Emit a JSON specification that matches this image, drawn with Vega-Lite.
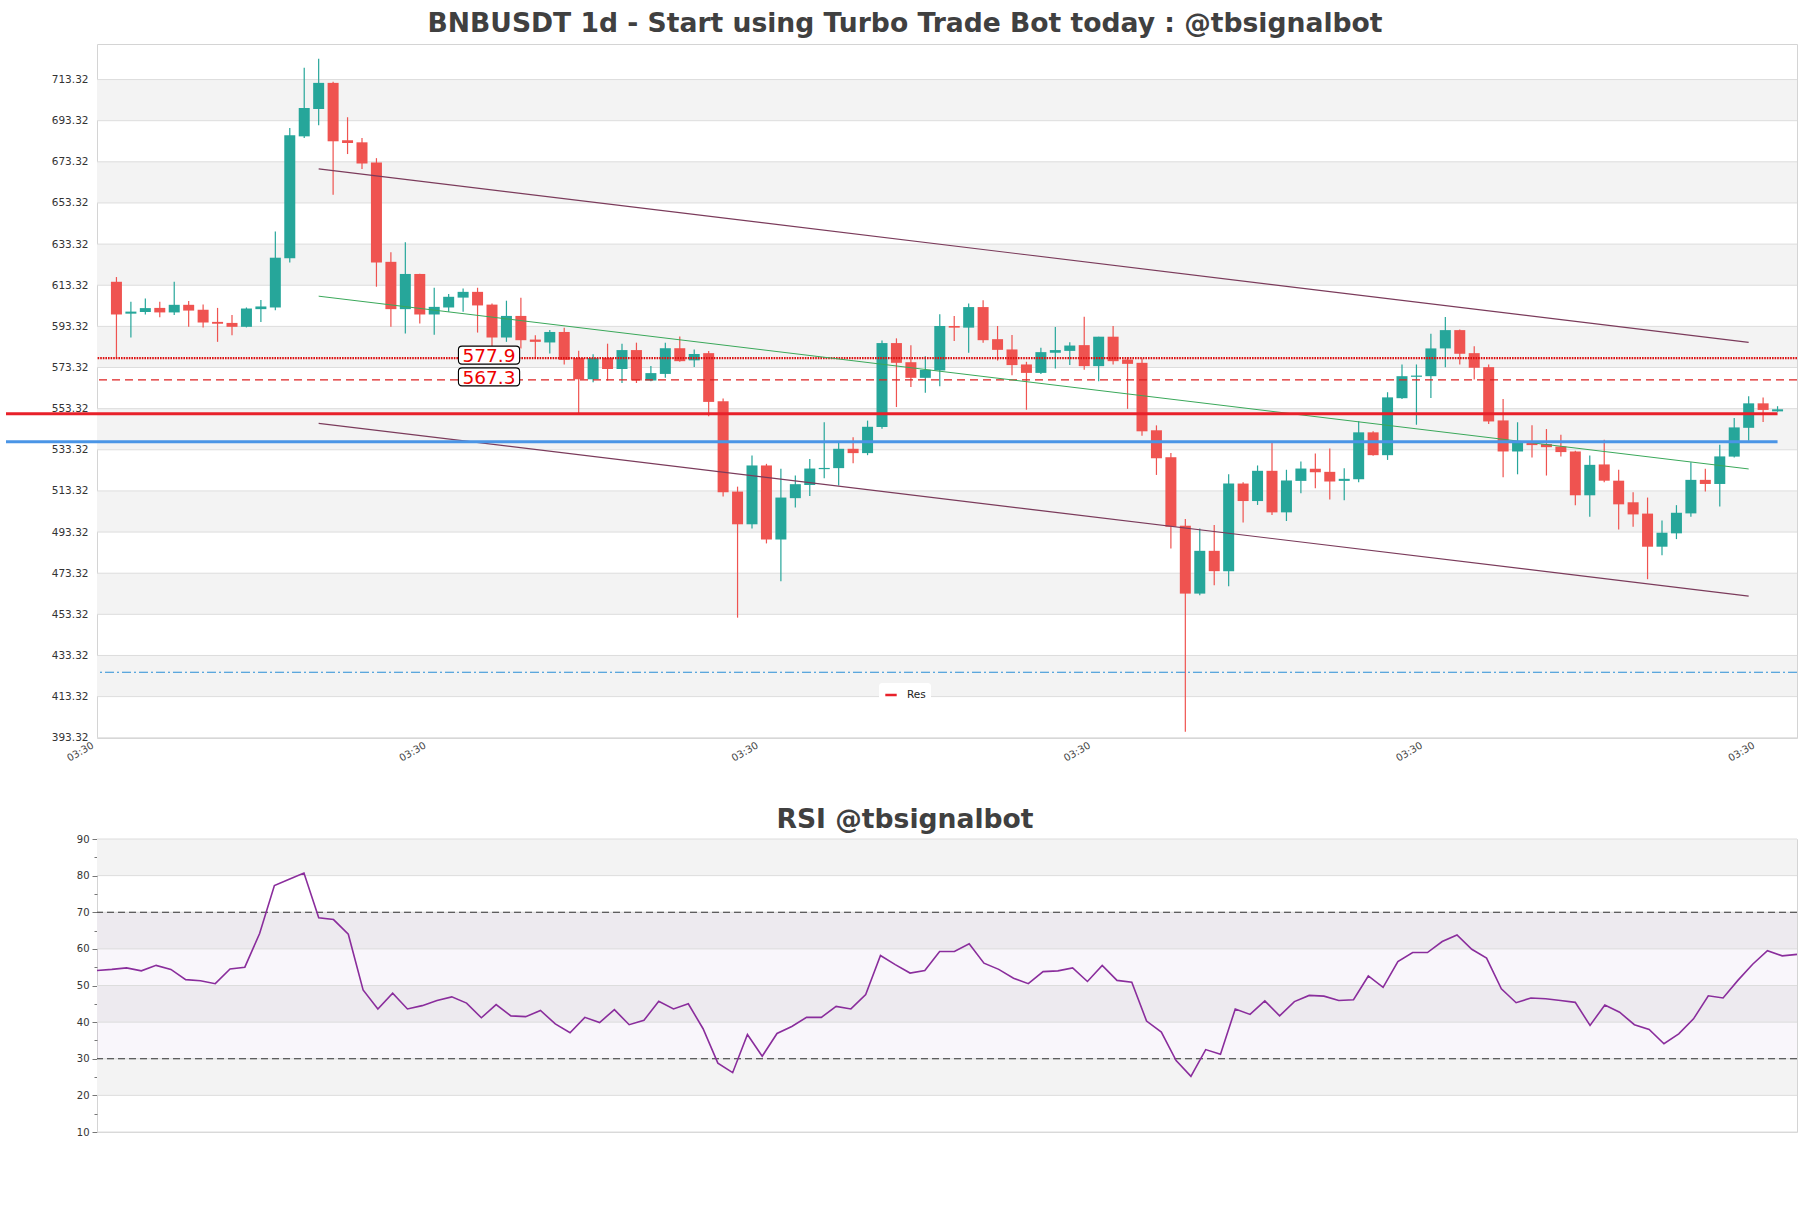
{
"$schema": "https://vega.github.io/schema/vega-lite/v6.json",
"background": "white",
"padding": {"left": 4, "top": 10, "right": 10, "bottom": 5},
"spacing": 42,
"config": {"font": "DejaVu Sans", "view": {"stroke": "#d4d4d4", "strokeWidth": 1}, "axis": {"labelFont": "DejaVu Sans", "grid": false, "domain": false}},
"resolve": {"scale": {"x": "independent", "y": "independent", "color": "independent"}},
"datasets": {
"k": [
{"d":"2024-05-23T03:30:00","o":615.0,"h":617.3,"l":577.8,"c":599.1,"r":54.1},
{"d":"2024-05-24T03:30:00","o":599.5,"h":605.3,"l":587.9,"c":600.5,"r":54.4},
{"d":"2024-05-25T03:30:00","o":600.3,"h":606.9,"l":599.1,"c":602.2,"r":54.8},
{"d":"2024-05-26T03:30:00","o":602.3,"h":605.3,"l":597.8,"c":600.1,"r":54.0},
{"d":"2024-05-27T03:30:00","o":600.1,"h":615.0,"l":598.8,"c":603.8,"r":55.5},
{"d":"2024-05-28T03:30:00","o":603.8,"h":605.6,"l":593.1,"c":601.0,"r":54.4},
{"d":"2024-05-29T03:30:00","o":601.4,"h":604.0,"l":592.8,"c":595.2,"r":51.6},
{"d":"2024-05-30T03:30:00","o":595.5,"h":602.3,"l":585.8,"c":594.6,"r":51.3},
{"d":"2024-05-31T03:30:00","o":595.0,"h":598.8,"l":589.0,"c":593.1,"r":50.5},
{"d":"2024-06-01T03:30:00","o":593.1,"h":602.5,"l":592.8,"c":602.0,"r":54.5},
{"d":"2024-06-02T03:30:00","o":601.7,"h":606.1,"l":595.5,"c":603.0,"r":55.0},
{"d":"2024-06-03T03:30:00","o":602.5,"h":639.4,"l":601.2,"c":626.7,"r":64.2},
{"d":"2024-06-04T03:30:00","o":626.4,"h":689.8,"l":624.4,"c":686.2,"r":77.3},
{"d":"2024-06-05T03:30:00","o":685.7,"h":719.0,"l":684.9,"c":699.5,"r":79.0},
{"d":"2024-06-06T03:30:00","o":699.0,"h":723.4,"l":691.1,"c":711.7,"r":80.7},
{"d":"2024-06-07T03:30:00","o":711.7,"h":712.2,"l":657.3,"c":683.3,"r":68.5},
{"d":"2024-06-08T03:30:00","o":683.8,"h":695.0,"l":677.1,"c":682.5,"r":68.0},
{"d":"2024-06-09T03:30:00","o":682.8,"h":684.9,"l":669.8,"c":672.5,"r":64.0},
{"d":"2024-06-10T03:30:00","o":673.0,"h":675.1,"l":612.6,"c":624.4,"r":48.8},
{"d":"2024-06-11T03:30:00","o":624.7,"h":629.3,"l":593.1,"c":601.7,"r":43.6},
{"d":"2024-06-12T03:30:00","o":601.7,"h":634.2,"l":589.9,"c":618.8,"r":47.9},
{"d":"2024-06-13T03:30:00","o":618.8,"h":618.9,"l":594.7,"c":599.1,"r":43.6},
{"d":"2024-06-14T03:30:00","o":599.1,"h":612.1,"l":589.3,"c":602.8,"r":44.5},
{"d":"2024-06-15T03:30:00","o":602.5,"h":609.0,"l":600.4,"c":607.7,"r":45.9},
{"d":"2024-06-16T03:30:00","o":607.3,"h":611.7,"l":600.4,"c":610.1,"r":46.9},
{"d":"2024-06-17T03:30:00","o":610.1,"h":612.1,"l":590.3,"c":603.5,"r":45.2},
{"d":"2024-06-18T03:30:00","o":603.9,"h":604.5,"l":583.3,"c":587.9,"r":41.2},
{"d":"2024-06-19T03:30:00","o":587.9,"h":605.8,"l":585.8,"c":598.4,"r":44.8},
{"d":"2024-06-20T03:30:00","o":598.4,"h":607.2,"l":582.6,"c":586.6,"r":41.7},
{"d":"2024-06-21T03:30:00","o":586.9,"h":589.0,"l":577.7,"c":585.8,"r":41.5},
{"d":"2024-06-22T03:30:00","o":585.5,"h":591.5,"l":580.1,"c":590.6,"r":43.2},
{"d":"2024-06-23T03:30:00","o":590.6,"h":592.6,"l":574.8,"c":577.0,"r":39.5},
{"d":"2024-06-24T03:30:00","o":577.9,"h":581.5,"l":550.3,"c":567.6,"r":37.1},
{"d":"2024-06-25T03:30:00","o":567.6,"h":579.8,"l":566.2,"c":577.9,"r":41.3},
{"d":"2024-06-26T03:30:00","o":578.0,"h":584.9,"l":567.0,"c":572.6,"r":39.9},
{"d":"2024-06-27T03:30:00","o":572.6,"h":584.9,"l":565.8,"c":581.8,"r":43.4},
{"d":"2024-06-28T03:30:00","o":581.8,"h":585.4,"l":565.8,"c":567.0,"r":39.3},
{"d":"2024-06-29T03:30:00","o":567.0,"h":574.0,"l":566.7,"c":570.6,"r":40.5},
{"d":"2024-06-30T03:30:00","o":570.2,"h":585.4,"l":568.3,"c":582.7,"r":45.7},
{"d":"2024-07-01T03:30:00","o":582.7,"h":588.4,"l":576.1,"c":576.4,"r":43.6},
{"d":"2024-07-02T03:30:00","o":576.8,"h":582.1,"l":573.6,"c":579.9,"r":45.0},
{"d":"2024-07-03T03:30:00","o":580.3,"h":581.3,"l":549.6,"c":556.6,"r":38.2},
{"d":"2024-07-04T03:30:00","o":556.9,"h":558.2,"l":510.6,"c":512.7,"r":28.8},
{"d":"2024-07-05T03:30:00","o":513.0,"h":515.4,"l":451.7,"c":497.1,"r":26.2},
{"d":"2024-07-06T03:30:00","o":497.1,"h":530.6,"l":495.1,"c":525.7,"r":36.6},
{"d":"2024-07-07T03:30:00","o":525.7,"h":526.5,"l":487.8,"c":489.7,"r":30.7},
{"d":"2024-07-08T03:30:00","o":489.7,"h":524.1,"l":469.4,"c":510.1,"r":36.9},
{"d":"2024-07-09T03:30:00","o":509.8,"h":520.8,"l":505.3,"c":516.6,"r":38.8},
{"d":"2024-07-10T03:30:00","o":516.2,"h":528.9,"l":510.9,"c":524.2,"r":41.3},
{"d":"2024-07-11T03:30:00","o":523.9,"h":546.7,"l":519.5,"c":524.5,"r":41.3},
{"d":"2024-07-12T03:30:00","o":524.4,"h":537.4,"l":515.9,"c":533.8,"r":44.3},
{"d":"2024-07-13T03:30:00","o":533.8,"h":539.4,"l":526.8,"c":531.7,"r":43.6},
{"d":"2024-07-14T03:30:00","o":531.7,"h":547.5,"l":530.7,"c":544.5,"r":47.5},
{"d":"2024-07-15T03:30:00","o":544.4,"h":586.5,"l":543.6,"c":585.2,"r":58.2},
{"d":"2024-07-16T03:30:00","o":585.2,"h":587.5,"l":554.1,"c":575.6,"r":55.7},
{"d":"2024-07-17T03:30:00","o":575.9,"h":584.2,"l":563.9,"c":568.3,"r":53.4},
{"d":"2024-07-18T03:30:00","o":568.3,"h":578.8,"l":561.0,"c":572.2,"r":54.1},
{"d":"2024-07-19T03:30:00","o":571.9,"h":599.2,"l":564.2,"c":593.5,"r":59.3},
{"d":"2024-07-20T03:30:00","o":593.5,"h":598.4,"l":586.2,"c":592.7,"r":59.3},
{"d":"2024-07-21T03:30:00","o":592.7,"h":604.4,"l":580.5,"c":602.7,"r":61.4},
{"d":"2024-07-22T03:30:00","o":602.7,"h":606.0,"l":585.4,"c":586.6,"r":56.1},
{"d":"2024-07-23T03:30:00","o":587.1,"h":593.5,"l":576.7,"c":581.9,"r":54.4},
{"d":"2024-07-24T03:30:00","o":582.1,"h":589.1,"l":569.6,"c":574.5,"r":52.0},
{"d":"2024-07-25T03:30:00","o":574.8,"h":576.1,"l":552.8,"c":570.7,"r":50.5},
{"d":"2024-07-26T03:30:00","o":570.7,"h":582.9,"l":570.2,"c":580.8,"r":53.8},
{"d":"2024-07-27T03:30:00","o":580.5,"h":593.0,"l":572.8,"c":581.8,"r":54.0},
{"d":"2024-07-28T03:30:00","o":581.4,"h":585.6,"l":574.5,"c":584.0,"r":54.8},
{"d":"2024-07-29T03:30:00","o":584.2,"h":598.0,"l":572.2,"c":574.0,"r":51.1},
{"d":"2024-07-30T03:30:00","o":574.0,"h":588.3,"l":566.6,"c":588.3,"r":55.5},
{"d":"2024-07-31T03:30:00","o":588.3,"h":593.5,"l":574.8,"c":576.4,"r":51.4},
{"d":"2024-08-01T03:30:00","o":577.2,"h":578.3,"l":553.2,"c":575.1,"r":50.9},
{"d":"2024-08-02T03:30:00","o":575.6,"h":577.7,"l":540.2,"c":542.3,"r":40.3},
{"d":"2024-08-03T03:30:00","o":542.8,"h":545.2,"l":521.1,"c":529.2,"r":37.3},
{"d":"2024-08-04T03:30:00","o":529.7,"h":531.7,"l":485.3,"c":495.9,"r":29.5},
{"d":"2024-08-05T03:30:00","o":496.4,"h":499.7,"l":396.2,"c":463.4,"r":25.2},
{"d":"2024-08-06T03:30:00","o":463.4,"h":495.1,"l":462.6,"c":484.2,"r":32.5},
{"d":"2024-08-07T03:30:00","o":484.2,"h":496.7,"l":467.5,"c":474.3,"r":31.2},
{"d":"2024-08-08T03:30:00","o":474.3,"h":521.4,"l":467.0,"c":516.9,"r":43.6},
{"d":"2024-08-09T03:30:00","o":516.9,"h":517.5,"l":498.0,"c":508.4,"r":42.1},
{"d":"2024-08-10T03:30:00","o":508.4,"h":525.7,"l":506.5,"c":523.1,"r":45.8},
{"d":"2024-08-11T03:30:00","o":523.1,"h":536.6,"l":501.6,"c":502.9,"r":41.7},
{"d":"2024-08-12T03:30:00","o":502.9,"h":523.6,"l":498.7,"c":518.4,"r":45.6},
{"d":"2024-08-13T03:30:00","o":518.2,"h":527.6,"l":512.2,"c":524.2,"r":47.3},
{"d":"2024-08-14T03:30:00","o":524.1,"h":531.5,"l":514.6,"c":522.4,"r":47.1},
{"d":"2024-08-15T03:30:00","o":522.6,"h":534.0,"l":509.2,"c":517.9,"r":45.9},
{"d":"2024-08-16T03:30:00","o":518.2,"h":524.4,"l":508.8,"c":519.2,"r":46.1},
{"d":"2024-08-17T03:30:00","o":519.0,"h":547.2,"l":517.5,"c":541.8,"r":52.6},
{"d":"2024-08-18T03:30:00","o":541.8,"h":542.3,"l":530.4,"c":530.7,"r":49.5},
{"d":"2024-08-19T03:30:00","o":530.7,"h":561.3,"l":528.4,"c":558.8,"r":56.5},
{"d":"2024-08-20T03:30:00","o":558.4,"h":574.8,"l":558.0,"c":569.1,"r":59.0},
{"d":"2024-08-21T03:30:00","o":568.8,"h":574.8,"l":545.5,"c":569.4,"r":59.0},
{"d":"2024-08-22T03:30:00","o":569.1,"h":589.7,"l":558.5,"c":582.6,"r":62.0},
{"d":"2024-08-23T03:30:00","o":582.6,"h":597.9,"l":573.5,"c":591.5,"r":63.8},
{"d":"2024-08-24T03:30:00","o":591.5,"h":591.8,"l":574.8,"c":580.0,"r":59.9},
{"d":"2024-08-25T03:30:00","o":580.3,"h":583.7,"l":567.5,"c":573.2,"r":57.5},
{"d":"2024-08-26T03:30:00","o":573.5,"h":574.8,"l":545.8,"c":547.1,"r":49.1},
{"d":"2024-08-27T03:30:00","o":547.6,"h":558.0,"l":520.0,"c":532.5,"r":45.3},
{"d":"2024-08-28T03:30:00","o":532.5,"h":546.7,"l":521.4,"c":537.4,"r":46.6},
{"d":"2024-08-29T03:30:00","o":536.9,"h":545.2,"l":529.6,"c":535.6,"r":46.4},
{"d":"2024-08-30T03:30:00","o":536.1,"h":543.4,"l":520.8,"c":534.6,"r":45.9},
{"d":"2024-08-31T03:30:00","o":534.9,"h":540.6,"l":530.1,"c":532.2,"r":45.4},
{"d":"2024-09-01T03:30:00","o":532.5,"h":532.8,"l":506.3,"c":511.2,"r":39.1},
{"d":"2024-09-02T03:30:00","o":511.2,"h":530.6,"l":500.8,"c":526.0,"r":44.7},
{"d":"2024-09-03T03:30:00","o":526.2,"h":538.2,"l":517.5,"c":518.3,"r":42.7},
{"d":"2024-09-04T03:30:00","o":518.3,"h":523.6,"l":494.6,"c":506.8,"r":39.3},
{"d":"2024-09-05T03:30:00","o":507.8,"h":512.7,"l":495.9,"c":501.9,"r":38.0},
{"d":"2024-09-06T03:30:00","o":502.3,"h":510.1,"l":470.4,"c":486.2,"r":34.1},
{"d":"2024-09-07T03:30:00","o":486.2,"h":498.9,"l":482.1,"c":493.0,"r":36.8},
{"d":"2024-09-08T03:30:00","o":492.7,"h":506.4,"l":489.9,"c":502.7,"r":40.9},
{"d":"2024-09-09T03:30:00","o":502.4,"h":527.3,"l":500.8,"c":518.7,"r":47.2},
{"d":"2024-09-10T03:30:00","o":518.7,"h":524.1,"l":513.0,"c":516.7,"r":46.6},
{"d":"2024-09-11T03:30:00","o":516.7,"h":535.8,"l":505.7,"c":530.1,"r":51.4},
{"d":"2024-09-12T03:30:00","o":530.0,"h":548.8,"l":529.6,"c":544.2,"r":55.8},
{"d":"2024-09-13T03:30:00","o":544.0,"h":559.3,"l":537.7,"c":555.9,"r":59.5},
{"d":"2024-09-14T03:30:00","o":555.9,"h":558.8,"l":546.8,"c":552.7,"r":58.1},
{"d":"2024-09-15T03:30:00","o":552.0,"h":554.5,"l":551.8,"c":553.0,"r":58.5}
],
"chan": [
{"s":"up","d":"2024-06-06T03:30:00","y":669.9},{"s":"up","d":"2024-09-13T03:30:00","y":585.5},
{"s":"low","d":"2024-06-06T03:30:00","y":546.2},{"s":"low","d":"2024-09-13T03:30:00","y":462.2},
{"s":"mid","d":"2024-06-06T03:30:00","y":608.0},{"s":"mid","d":"2024-09-13T03:30:00","y":524.0}
],
"lab": [
{"d":"2024-06-18T03:30:00","y":577.9,"t":"577.9"},
{"d":"2024-06-18T03:30:00","y":567.3,"t":"567.3"}
]
},
"vconcat": [
{
"width": 1700, "height": 694,
"title": {"text": "BNBUSDT 1d - Start using Turbo Trade Bot today : @tbsignalbot", "fontSize": 26.6, "fontWeight": "bold", "color": "#404040", "font": "DejaVu Sans", "anchor": "middle", "dx": -42, "offset": 6},
"layer": [
{"data": {"values": [{"lo":693.32,"hi":713.32},{"lo":653.32,"hi":673.32},{"lo":613.32,"hi":633.32},{"lo":573.32,"hi":593.32},{"lo":533.32,"hi":553.32},{"lo":493.32,"hi":513.32},{"lo":453.32,"hi":473.32},{"lo":413.32,"hi":433.32}]},
 "mark": {"type": "rect", "fill": "#f3f3f3"},
 "encoding": {
  "y": {"field": "lo", "type": "quantitative", "title": null, "scale": {"domain": [393.2, 730.6], "nice": false, "zero": false},
   "axis": {"values": [393.32,413.32,433.32,453.32,473.32,493.32,513.32,533.32,553.32,573.32,593.32,613.32,633.32,653.32,673.32,693.32,713.32], "tickCount": 40, "format": ".2f", "ticks": false, "labelPadding": 9, "labelFontSize": 10.5, "labelColor": "#333333", "title": null, "labelOverlap": false}},
  "y2": {"field": "hi"}}},
{"data": {"values": [{"v":393.32},{"v":413.32},{"v":433.32},{"v":453.32},{"v":473.32},{"v":493.32},{"v":513.32},{"v":533.32},{"v":553.32},{"v":573.32},{"v":593.32},{"v":613.32},{"v":633.32},{"v":653.32},{"v":673.32},{"v":693.32},{"v":713.32}]},
 "mark": {"type": "rule", "color": "#dddddd", "strokeWidth": 1},
 "encoding": {"y": {"field": "v", "type": "quantitative", "title": null, "scale": {"domain": [393.2, 730.6], "nice": false, "zero": false}}}},
{"data": {"name": "k"},
 "mark": {"type": "rule", "strokeWidth": 1.2},
 "encoding": {
  "x": {"field": "d", "type": "temporal", "title": null, "scale": {"domain": [{"year":2024,"month":5,"date":22,"hours":3,"minutes":30},{"year":2024,"month":9,"date":16,"hours":3,"minutes":30}]},
   "axis": {"values": [{"year":2024,"month":5,"date":22,"hours":3,"minutes":30},{"year":2024,"month":6,"date":14,"hours":3,"minutes":30},{"year":2024,"month":7,"date":7,"hours":3,"minutes":30},{"year":2024,"month":7,"date":30,"hours":3,"minutes":30},{"year":2024,"month":8,"date":22,"hours":3,"minutes":30},{"year":2024,"month":9,"date":14,"hours":3,"minutes":30}],
    "tickCount": 40, "format": "%H:%M", "formatType": "time", "labelAngle": -30, "labelAlign": "right", "labelBaseline": "top", "labelOffset": -12, "ticks": false, "labelPadding": 2, "labelFontSize": 10, "labelColor": "#444444", "title": null, "labelOverlap": false}},
  "y": {"field": "l", "type": "quantitative", "title": null, "scale": {"domain": [393.2, 730.6], "nice": false, "zero": false}},
  "y2": {"field": "h"},
  "color": {"condition": {"test": "datum.c >= datum.o", "value": "#26a69a"}, "value": "#ef5350"}}},
{"data": {"name": "k"},
 "mark": {"type": "bar", "width": 11},
 "encoding": {
  "x": {"field": "d", "type": "temporal", "title": null, "scale": {"domain": [{"year":2024,"month":5,"date":22,"hours":3,"minutes":30},{"year":2024,"month":9,"date":16,"hours":3,"minutes":30}]}},
  "y": {"field": "o", "type": "quantitative", "title": null, "scale": {"domain": [393.2, 730.6], "nice": false, "zero": false}},
  "y2": {"field": "c"},
  "color": {"condition": {"test": "datum.c >= datum.o", "value": "#26a69a"}, "value": "#ef5350"}}},
{"data": {"values": [{"y": 577.9}]},
 "mark": {"type": "rule", "color": "#dd1111", "strokeWidth": 2.2, "strokeDash": [1.6, 1]},
 "encoding": {"y": {"field": "y", "type": "quantitative", "title": null, "scale": {"domain": [393.2, 730.6], "nice": false, "zero": false}}}},
{"data": {"values": [{"y": 567.3}]},
 "mark": {"type": "rule", "color": "#dd2222", "strokeWidth": 1.2, "strokeDash": [8, 5]},
 "encoding": {"y": {"field": "y", "type": "quantitative", "title": null, "scale": {"domain": [393.2, 730.6], "nice": false, "zero": false}}}},
{"data": {"values": [{"y": 425.2}]},
 "mark": {"type": "rule", "color": "#2a8fd6", "strokeWidth": 1.1, "strokeDash": [9, 3, 2, 3]},
 "encoding": {"y": {"field": "y", "type": "quantitative", "title": null, "scale": {"domain": [393.2, 730.6], "nice": false, "zero": false}}}},
{"data": {"name": "chan"},
 "transform": [{"filter": "datum.s !== 'mid'"}],
 "mark": {"type": "line", "color": "#7b3b5b", "strokeWidth": 1.2},
 "encoding": {
  "x": {"field": "d", "type": "temporal", "title": null, "scale": {"domain": [{"year":2024,"month":5,"date":22,"hours":3,"minutes":30},{"year":2024,"month":9,"date":16,"hours":3,"minutes":30}]}},
  "y": {"field": "y", "type": "quantitative", "title": null, "scale": {"domain": [393.2, 730.6], "nice": false, "zero": false}},
  "detail": {"field": "s"}}},
{"data": {"name": "chan"},
 "transform": [{"filter": "datum.s === 'mid'"}],
 "mark": {"type": "line", "color": "#3aa85a", "strokeWidth": 1},
 "encoding": {
  "x": {"field": "d", "type": "temporal", "title": null, "scale": {"domain": [{"year":2024,"month":5,"date":22,"hours":3,"minutes":30},{"year":2024,"month":9,"date":16,"hours":3,"minutes":30}]}},
  "y": {"field": "y", "type": "quantitative", "title": null, "scale": {"domain": [393.2, 730.6], "nice": false, "zero": false}}}},
{"data": {"values": [{"a": "2024-05-15T12:00:00", "b": "2024-09-15T03:30:00", "y": 537.2}]},
 "mark": {"type": "rule", "color": "#4a95e6", "strokeWidth": 3, "clip": false},
 "encoding": {
  "x": {"field": "a", "type": "temporal", "title": null, "scale": {"domain": [{"year":2024,"month":5,"date":22,"hours":3,"minutes":30},{"year":2024,"month":9,"date":16,"hours":3,"minutes":30}]}},
  "x2": {"field": "b"},
  "y": {"field": "y", "type": "quantitative", "title": null, "scale": {"domain": [393.2, 730.6], "nice": false, "zero": false}}}},
{"data": {"values": [{"a": "2024-05-15T12:00:00", "b": "2024-09-15T03:30:00", "y": 550.9, "k": "Res"}]},
 "mark": {"type": "rule", "strokeWidth": 3, "clip": false},
 "encoding": {
  "x": {"field": "a", "type": "temporal", "title": null, "scale": {"domain": [{"year":2024,"month":5,"date":22,"hours":3,"minutes":30},{"year":2024,"month":9,"date":16,"hours":3,"minutes":30}]}},
  "x2": {"field": "b"},
  "y": {"field": "y", "type": "quantitative", "title": null, "scale": {"domain": [393.2, 730.6], "nice": false, "zero": false}},
  "color": {"field": "k", "type": "nominal", "scale": {"domain": ["Res"], "range": ["#e8212a"]},
   "legend": {"orient": "none", "legendX": 782, "legendY": 639, "title": null, "symbolType": "stroke", "symbolStrokeWidth": 2.5, "symbolSize": 130, "fillColor": "white", "cornerRadius": 3, "padding": 5, "labelFontSize": 10.5, "labelColor": "#222222", "labelFont": "DejaVu Sans", "labelOffset": 9}}}},
{"data": {"name": "lab"},
 "mark": {"type": "point", "filled": true, "fill": "white", "stroke": "black", "strokeWidth": 1.1, "opacity": 1, "size": 324, "shape": "M-3.33,-1.33 L2.67,-1.33 Q3.07,-1.33 3.07,-0.93 L3.07,0.27 Q3.07,0.67 2.67,0.67 L-3.33,0.67 Q-3.73,0.67 -3.73,0.27 L-3.73,-0.93 Q-3.73,-1.33 -3.33,-1.33 Z"},
 "encoding": {
  "x": {"field": "d", "type": "temporal", "title": null, "scale": {"domain": [{"year":2024,"month":5,"date":22,"hours":3,"minutes":30},{"year":2024,"month":9,"date":16,"hours":3,"minutes":30}]}},
  "y": {"field": "y", "type": "quantitative", "title": null, "scale": {"domain": [393.2, 730.6], "nice": false, "zero": false}}}},
{"data": {"name": "lab"},
 "mark": {"type": "text", "color": "#ee0000", "fontSize": 18.5, "font": "DejaVu Sans", "align": "center", "baseline": "middle", "dy": -2, "dx": -3},
 "encoding": {
  "x": {"field": "d", "type": "temporal", "title": null, "scale": {"domain": [{"year":2024,"month":5,"date":22,"hours":3,"minutes":30},{"year":2024,"month":9,"date":16,"hours":3,"minutes":30}]}},
  "y": {"field": "y", "type": "quantitative", "title": null, "scale": {"domain": [393.2, 730.6], "nice": false, "zero": false}},
  "text": {"field": "t"}}}
]
},
{
"width": 1700, "height": 293,
"title": {"text": "RSI @tbsignalbot", "fontSize": 26.6, "fontWeight": "bold", "color": "#404040", "font": "DejaVu Sans", "anchor": "middle", "dx": -42, "offset": 0},
"layer": [
{"data": {"values": [{"lo":80,"hi":90},{"lo":60,"hi":70},{"lo":40,"hi":50},{"lo":20,"hi":30}]},
 "mark": {"type": "rect", "fill": "#f3f3f3"},
 "encoding": {
  "y": {"field": "lo", "type": "quantitative", "title": null, "scale": {"domain": [10, 90], "nice": false, "zero": false},
   "axis": {"values": [10,15,20,25,30,35,40,45,50,55,60,65,70,75,80,85,90], "tickCount": 40, "labelExpr": "datum.value % 10 === 0 ? datum.label : ''", "labelOverlap": false, "ticks": true, "tickColor": "#777777", "tickSize": {"condition": {"test": "datum.value % 10 === 0", "value": 5}, "value": 3}, "labelPadding": 3, "labelFontSize": 10, "labelColor": "#333333", "title": null}},
  "y2": {"field": "hi"}}},
{"data": {"values": [{"lo":30,"hi":70}]},
 "mark": {"type": "rect", "fill": "#9a6db5", "opacity": 0.06},
 "encoding": {
  "y": {"field": "lo", "type": "quantitative", "title": null, "scale": {"domain": [10, 90], "nice": false, "zero": false}},
  "y2": {"field": "hi"}}},
{"data": {"values": [{"v":10},{"v":20},{"v":30},{"v":40},{"v":50},{"v":60},{"v":70},{"v":80},{"v":90}]},
 "mark": {"type": "rule", "color": "#dddddd", "strokeWidth": 1},
 "encoding": {"y": {"field": "v", "type": "quantitative", "title": null, "scale": {"domain": [10, 90], "nice": false, "zero": false}}}},
{"data": {"values": [{"v":30},{"v":70}]},
 "mark": {"type": "rule", "color": "#333333", "strokeWidth": 1.1, "strokeDash": [7, 4]},
 "encoding": {"y": {"field": "v", "type": "quantitative", "title": null, "scale": {"domain": [10, 90], "nice": false, "zero": false}}}},
{"data": {"name": "k"},
 "mark": {"type": "line", "color": "#8a2d9c", "strokeWidth": 1.6},
 "encoding": {
  "x": {"field": "d", "type": "temporal", "title": null, "axis": null, "scale": {"domain": [{"year":2024,"month":5,"date":23,"hours":3,"minutes":30},{"year":2024,"month":9,"date":15,"hours":3,"minutes":30}]}},
  "y": {"field": "r", "type": "quantitative", "title": null, "scale": {"domain": [10, 90], "nice": false, "zero": false}}}}
]
}
]
}
